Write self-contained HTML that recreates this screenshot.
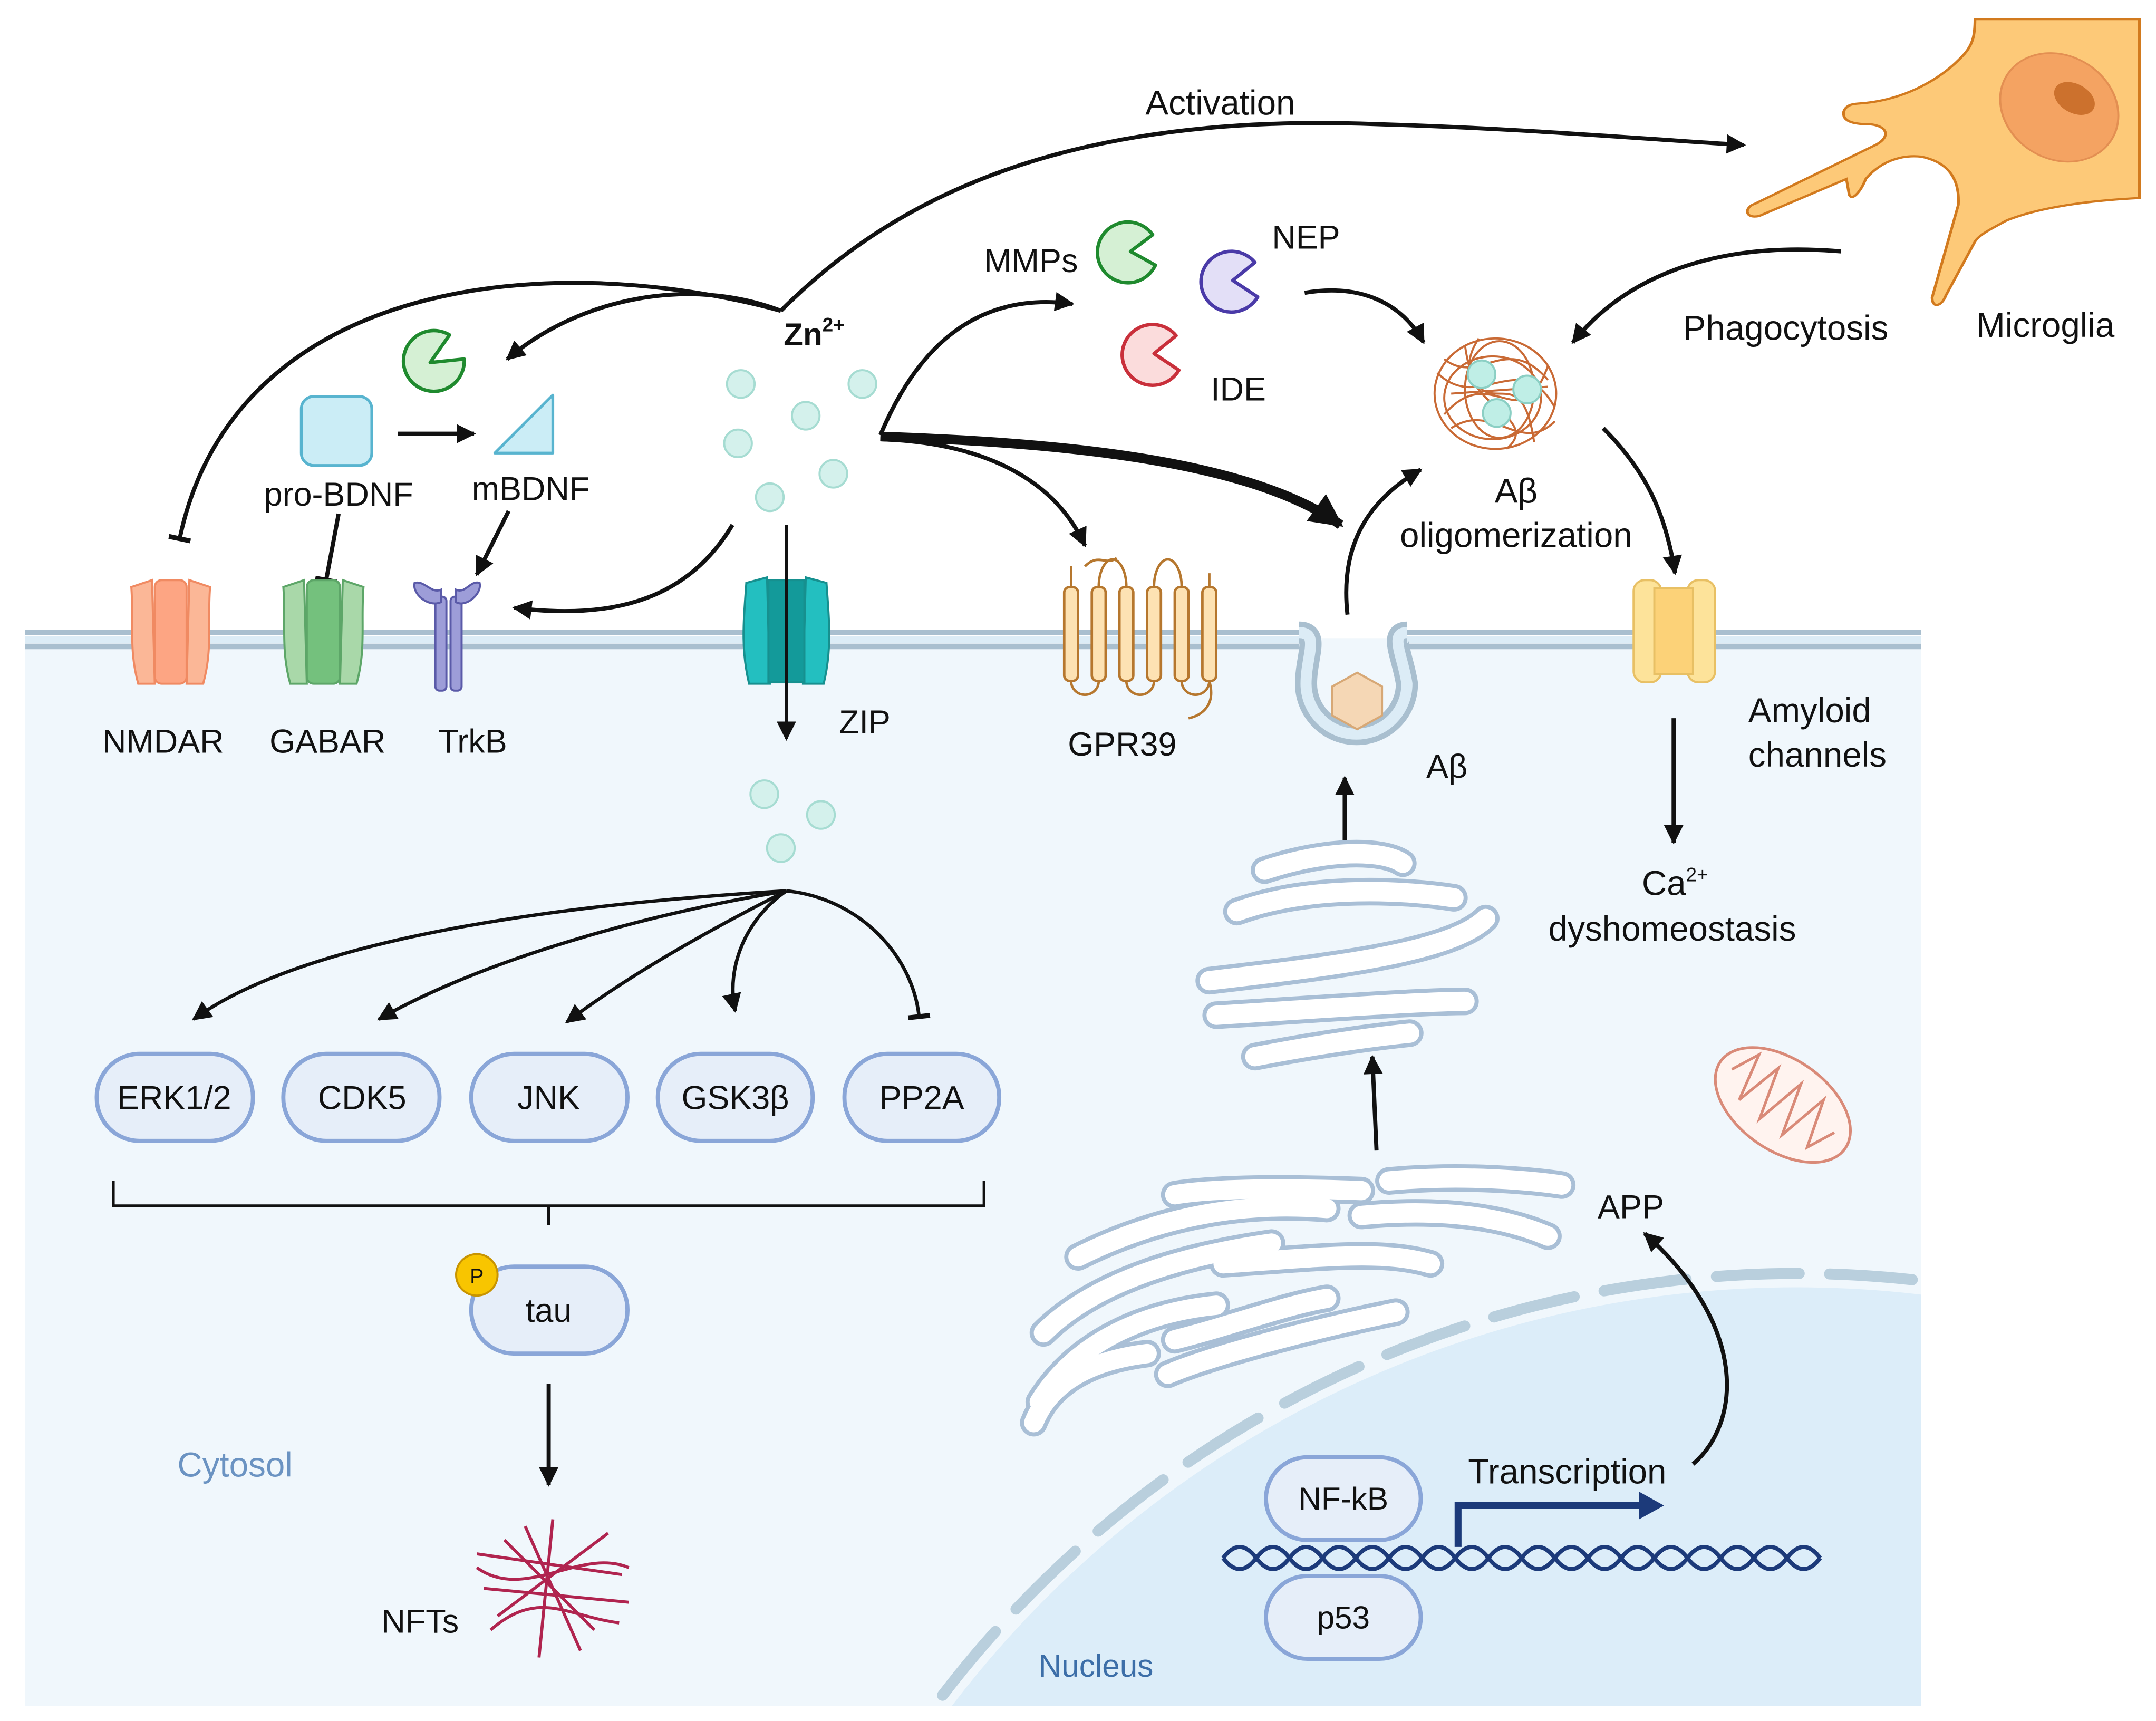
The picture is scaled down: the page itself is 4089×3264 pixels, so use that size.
<!DOCTYPE html>
<html><head><meta charset="utf-8"><style>
html,body{margin:0;padding:0;background:#fff;width:4089px;height:3264px;overflow:hidden;}
svg{display:block;}
text{font-family:"Liberation Sans",sans-serif;fill:#111;}
</style></head><body>
<svg width="4089" height="3264" viewBox="0 0 1560 1246" preserveAspectRatio="none" xmlns="http://www.w3.org/2000/svg">
<defs>
<marker id="a" viewBox="0 0 10 10" refX="9" refY="5" markerWidth="16" markerHeight="14" orient="auto" markerUnits="userSpaceOnUse"><path d="M0,0 L10,5 L0,10 z" fill="#111"/></marker>
<marker id="ab" viewBox="0 0 10 10" refX="9" refY="5" markerWidth="26" markerHeight="24" orient="auto" markerUnits="userSpaceOnUse"><path d="M0,0 L10,5 L0,10 z" fill="#111"/></marker>
<marker id="t" viewBox="0 0 10 10" refX="5" refY="5" markerWidth="16" markerHeight="16" orient="auto" markerUnits="userSpaceOnUse"><path d="M5,0 L5,10" stroke="#111" stroke-width="2.2"/></marker>
<clipPath id="cell"><rect x="18" y="462" width="1372" height="773"/></clipPath>
</defs>
<rect x="18" y="462" width="1372" height="773" fill="#f0f7fc"/>
<g clip-path="url(#cell)">
<circle cx="1300" cy="1700" r="768" fill="#dcedf9"/>
<circle cx="1300" cy="1700" r="778" fill="none" stroke="#b9cfdd" stroke-width="8" stroke-dasharray="60 22" stroke-linecap="round"/>
</g>
<path d="M18,458 H940 M1018,458 H1390" stroke="#a9bfcf" stroke-width="4" fill="none"/>
<path d="M18,463 H940 M1018,463 H1390" stroke="#dcecf6" stroke-width="5" fill="none"/>
<path d="M18,468 H940 M1018,468 H1390" stroke="#a9bfcf" stroke-width="4" fill="none"/>
<path d="M940,458 C955,458 945,475 945,495 A36,36 0 0 0 1018,495 C1015,475 1005,458 1018,458" fill="none" stroke="#a9bfcf" stroke-width="16"/>
<path d="M940,458 C955,458 945,475 945,495 A36,36 0 0 0 1018,495 C1015,475 1005,458 1018,458" fill="none" stroke="#dcecf6" stroke-width="8"/>
<polygon points="982,487 1000,497 1000,518 982,528 964,518 964,497" fill="#f5d7b5" stroke="#d7a876" stroke-width="1.5"/>

<!-- microglia -->
<g transform="scale(1,0.81)">
<path d="M1429,17 L1548,17 L1548,177 C1500,180 1470,188 1452,197 C1440,205 1432,210 1429,216 L1408,264 C1405,274 1398,276 1398,266 L1417,183 C1418,160 1410,145 1390,140 C1375,138 1360,145 1350,160 C1346,172 1340,180 1338,174 L1336,160 L1273,193 C1262,196 1262,185 1270,182 L1358,129 C1368,122 1366,112 1352,111 C1340,111 1333,108 1334,100 C1336,92 1343,93 1350,92 C1380,88 1405,70 1420,50 C1428,40 1429,30 1429,17 Z" fill="#fdc978" stroke="#d27a1e" stroke-width="2"/>
<ellipse cx="1490" cy="96" rx="41" ry="50" fill="#f4a362" stroke="#e38f52" stroke-width="1.5" transform="rotate(-25 1490 96)"/>
<ellipse cx="1501" cy="88" rx="17" ry="12" fill="#cc712d" transform="rotate(45 1501 88)"/>
</g>

<path d="M565,225 C640,150 760,80 1000,90 C1100,93 1180,100 1262,105" fill="none" stroke="#111" stroke-width="3" marker-end="url(#a)"/>
<text x="883" y="83" font-size="25" text-anchor="middle">Activation</text>
<path d="M565,225 C500,200 420,215 367,260" fill="none" stroke="#111" stroke-width="3" marker-end="url(#a)"/>
<path d="M565,225 C400,180 170,200 130,390" fill="none" stroke="#111" stroke-width="3" marker-end="url(#t)"/>
<text x="567" y="250" font-size="23" font-weight="bold">Zn<tspan font-size="14" dy="-10">2+</tspan></text>
<g fill="#d4f1ec" stroke="#a6dcd2" stroke-width="1.5">
<circle cx="536" cy="278" r="10"/><circle cx="624" cy="278" r="10"/><circle cx="583" cy="301" r="10"/><circle cx="534" cy="321" r="10"/><circle cx="603" cy="343" r="10"/><circle cx="557" cy="360" r="10"/>
<circle cx="553" cy="575" r="10"/><circle cx="594" cy="590" r="10"/><circle cx="565" cy="614" r="10"/>
</g>
<path d="M637,315 C660,260 700,210 776,220" fill="none" stroke="#111" stroke-width="3" marker-end="url(#a)"/>
<path d="M637,318 C700,320 760,340 785,395" fill="none" stroke="#111" stroke-width="3" marker-end="url(#a)"/>
<path d="M637,316 C750,320 900,330 970,380" fill="none" stroke="#111" stroke-width="7" marker-end="url(#ab)"/>
<path d="M530,380 C500,430 450,450 372,440" fill="none" stroke="#111" stroke-width="3" marker-end="url(#a)"/>

<path d="M338,268 A22,22 0 1 1 334,248 L314,262 Z" fill="#d5f0d4" stroke="#1f8a2e" stroke-width="2.5" stroke-linejoin="round" transform="rotate(-20 314 270)"/>
<rect x="218" y="287" width="51" height="50" rx="9" fill="#cbedf6" stroke="#58b4cf" stroke-width="2"/>
<path d="M358,328 L400,286 L400,328 Z" fill="#cbedf6" stroke="#58b4cf" stroke-width="2" stroke-linejoin="round"/>
<path d="M288,314 H343" stroke="#111" stroke-width="3" marker-end="url(#a)"/>
<text x="245" y="366" font-size="24" text-anchor="middle">pro-BDNF</text>
<text x="384" y="362" font-size="24" text-anchor="middle">mBDNF</text>
<path d="M245,372 L236,420" stroke="#111" stroke-width="3" marker-end="url(#t)"/>
<path d="M368,370 L345,416" stroke="#111" stroke-width="3" marker-end="url(#a)"/>

<g stroke="#f08a62" stroke-width="1.5" fill="#fbb797">
<path d="M95,425 L110,420 L112,495 L100,495 C93,470 97,450 95,425Z"/><path d="M152,425 L137,420 L135,495 L147,495 C154,470 150,450 152,425Z"/>
<rect x="112" y="420" width="23" height="75" rx="5" fill="#fda583"/>
</g>
<g stroke="#5da668" stroke-width="1.5" fill="#a9d8a9">
<path d="M205,425 L220,420 L222,495 L210,495 C203,470 207,450 205,425Z"/><path d="M263,425 L248,420 L246,495 L258,495 C265,470 261,450 263,425Z"/>
<rect x="222" y="420" width="24" height="75" rx="5" fill="#74c17d"/>
</g>
<g fill="#9d9dd8" stroke="#5a5aa8" stroke-width="1.5">
<rect x="315" y="432" width="8" height="68" rx="3"/><rect x="326" y="432" width="8" height="68" rx="3"/>
<path d="M300,422 C298,430 310,440 319,436 L319,427 C312,430 307,420 300,422Z"/><path d="M347,422 C349,430 337,440 330,436 L330,427 C337,430 340,420 347,422Z"/>
</g>
<text x="118" y="545" font-size="24" text-anchor="middle">NMDAR</text>
<text x="237" y="545" font-size="24" text-anchor="middle">GABAR</text>
<text x="342" y="545" font-size="24" text-anchor="middle">TrkB</text>

<g fill="#23bfc0" stroke="#16908f" stroke-width="1.5">
<path d="M540,422 L555,418 L557,495 L542,495 C536,470 538,450 540,422Z"/><path d="M598,422 L583,418 L581,495 L596,495 C602,470 600,450 598,422Z"/>
<rect x="556" y="420" width="26" height="74" fill="#139a9a"/>
</g>
<path d="M569,380 V535" stroke="#111" stroke-width="2.5" marker-end="url(#a)"/>
<text x="607" y="531" font-size="24">ZIP</text>

<g fill="#fde2b3" stroke="#b6772e" stroke-width="1.8">
<path d="M785,410 C795,400 800,410 808,404" fill="none"/>
<rect x="770" y="425" width="10" height="68" rx="4"/><rect x="790" y="425" width="10" height="68" rx="4"/><rect x="810" y="425" width="10" height="68" rx="4"/><rect x="830" y="425" width="10" height="68" rx="4"/><rect x="850" y="425" width="10" height="68" rx="4"/><rect x="870" y="425" width="10" height="68" rx="4"/>
<path d="M775,425 V410 M795,425 A5,10 0 0 1 815,425 M835,425 A5,10 0 0 1 855,425 M875,425 V415 M775,493 A10,10 0 0 0 795,493 M815,493 A10,10 0 0 0 835,493 M855,493 A10,10 0 0 0 875,493 M875,493 C880,510 870,518 860,520" fill="none"/>
</g>
<text x="812" y="547" font-size="24" text-anchor="middle">GPR39</text>

<path d="M836,192 A22,22 0 1 1 834,170 L818,182 Z" fill="#d5f0d4" stroke="#1f8a2e" stroke-width="2.5" stroke-linejoin="round"/>
<path d="M910,215 A22,22 0 1 1 908,190 L892,203 Z" fill="#e3dff7" stroke="#4a3aa8" stroke-width="2.5" stroke-linejoin="round"/>
<path d="M853,268 A22,22 0 1 1 851,243 L835,256 Z" fill="#fbdcdc" stroke="#c9303b" stroke-width="2.5" stroke-linejoin="round"/>
<text x="746" y="197" font-size="24" text-anchor="middle">MMPs</text>
<text x="945" y="180" font-size="24" text-anchor="middle">NEP</text>
<text x="896" y="290" font-size="24" text-anchor="middle">IDE</text>
<path d="M944,212 C985,205 1015,220 1030,248" fill="none" stroke="#111" stroke-width="3" marker-end="url(#a)"/>
<path d="M1332,182 C1250,175 1180,195 1138,248" fill="none" stroke="#111" stroke-width="3" marker-end="url(#a)"/>
<text x="1292" y="246" font-size="25" text-anchor="middle">Phagocytosis</text>
<text x="1480" y="244" font-size="25" text-anchor="middle">Microglia</text>

<g stroke="#c45a20" stroke-width="1.5" fill="none" opacity="0.9">
<ellipse cx="1082" cy="285" rx="44" ry="40"/><ellipse cx="1080" cy="288" rx="35" ry="30"/><ellipse cx="1085" cy="282" rx="25" ry="35"/>
<path d="M1040,270 C1070,300 1100,250 1125,295 M1045,300 C1080,260 1100,320 1120,265 M1060,250 C1070,320 1100,250 1110,320 M1050,285 L1120,280 M1070,245 C1040,290 1120,300 1090,325 M1045,260 C1070,280 1090,240 1120,275 M1050,310 C1080,290 1100,330 1125,305"/>
</g>
<g fill="#bfeee6" stroke="#8bcfc4" stroke-width="1.5"><circle cx="1072" cy="271" r="10"/><circle cx="1105" cy="282" r="10"/><circle cx="1083" cy="299" r="10"/></g>
<text x="1097" y="364" font-size="25" text-anchor="middle">Aβ</text>
<text x="1097" y="396" font-size="25" text-anchor="middle">oligomerization</text>
<path d="M975,445 C970,400 985,365 1028,340" fill="none" stroke="#111" stroke-width="3" marker-end="url(#a)"/>
<path d="M1160,310 C1190,340 1205,370 1212,415" fill="none" stroke="#111" stroke-width="3" marker-end="url(#a)"/>

<g fill="#fde39a" stroke="#e8c064" stroke-width="1.5">
<rect x="1182" y="420" width="20" height="74" rx="8"/><rect x="1221" y="420" width="20" height="74" rx="8"/>
<rect x="1197" y="426" width="28" height="62" fill="#fcd278"/>
</g>
<text x="1265" y="523" font-size="25">Amyloid</text>
<text x="1265" y="555" font-size="25">channels</text>
<path d="M1211,520 V610" stroke="#111" stroke-width="3" marker-end="url(#a)"/>
<text x="1188" y="648" font-size="25">Ca<tspan font-size="14" dy="-10">2+</tspan></text>
<text x="1210" y="681" font-size="25" text-anchor="middle">dyshomeostasis</text>
<text x="1032" y="563" font-size="24">Aβ</text>
<path d="M973,615 V563" stroke="#111" stroke-width="3" marker-end="url(#a)"/>

<g fill="none" stroke-linecap="round">
<g stroke="#a9bfd6" stroke-width="20">
<path d="M915,630 C960,615 1000,615 1015,625"/><path d="M895,660 C950,640 1020,645 1052,650"/><path d="M875,710 C960,700 1050,690 1075,665"/><path d="M880,735 C960,730 1030,725 1060,725"/><path d="M908,765 C960,755 1000,750 1020,748"/>
</g>
<g stroke="#ffffff" stroke-width="14">
<path d="M915,630 C960,615 1000,615 1015,625"/><path d="M895,660 C950,640 1020,645 1052,650"/><path d="M875,710 C960,700 1050,690 1075,665"/><path d="M880,735 C960,730 1030,725 1060,725"/><path d="M908,765 C960,755 1000,750 1020,748"/>
</g>
</g>
<path d="M996,833 L993,765" stroke="#111" stroke-width="3" marker-end="url(#a)"/>
<g fill="none" stroke-linecap="round">
<g stroke="#a9bfd6" stroke-width="20">
<path d="M1005,855 C1060,850 1110,855 1130,858"/><path d="M850,865 C880,860 930,860 985,862"/><path d="M780,910 C840,880 900,870 960,875 M985,880 C1040,875 1085,880 1120,895"/><path d="M755,965 C790,930 850,910 920,900 M885,915 C960,910 1000,905 1035,915"/><path d="M752,1015 C780,970 830,950 880,945 M850,970 C890,960 930,945 960,940 M845,995 C880,980 960,960 1010,950"/><path d="M748,1030 C760,1000 790,985 830,980"/>
</g>
<g stroke="#ffffff" stroke-width="14">
<path d="M1005,855 C1060,850 1110,855 1130,858"/><path d="M850,865 C880,860 930,860 985,862"/><path d="M780,910 C840,880 900,870 960,875 M985,880 C1040,875 1085,880 1120,895"/><path d="M755,965 C790,930 850,910 920,900 M885,915 C960,910 1000,905 1035,915"/><path d="M752,1015 C780,970 830,950 880,945 M850,970 C890,960 930,945 960,940 M845,995 C880,980 960,960 1010,950"/><path d="M748,1030 C760,1000 790,985 830,980"/>
</g>
</g>
<text x="1156" y="882" font-size="24">APP</text>
<g transform="rotate(35 1290 800)"><ellipse cx="1290" cy="800" rx="55" ry="33" fill="#fff3ef" stroke="#d98a78" stroke-width="2"/>
<path d="M1245,800 L1255,780 L1262,815 L1272,780 L1282,818 L1292,780 L1302,818 L1312,780 L1322,815 L1332,795" fill="none" stroke="#d98a78" stroke-width="2"/></g>

<path d="M1225,1060 C1260,1030 1265,960 1190,893" fill="none" stroke="#111" stroke-width="3" marker-end="url(#a)"/>
<text x="1134" y="1074" font-size="25" text-anchor="middle">Transcription</text>
<path d="M1055,1120 V1090 H1190" fill="none" stroke="#1c3a7a" stroke-width="5"/>
<path d="M1186,1080 L1204,1090 L1186,1100 Z" fill="#1c3a7a"/>
<path d="M885,1128 Q897,1112 909,1128 T933,1128 T957,1128 T981,1128 T1005,1128 T1029,1128 T1053,1128 T1077,1128 T1101,1128 T1125,1128 T1149,1128 T1173,1128 T1197,1128 T1221,1128 T1245,1128 T1269,1128 T1293,1128 T1317,1128" fill="none" stroke="#1c3a7a" stroke-width="3"/>
<path d="M885,1128 Q897,1144 909,1128 T933,1128 T957,1128 T981,1128 T1005,1128 T1029,1128 T1053,1128 T1077,1128 T1101,1128 T1125,1128 T1149,1128 T1173,1128 T1197,1128 T1221,1128 T1245,1128 T1269,1128 T1293,1128 T1317,1128" fill="none" stroke="#1c3a7a" stroke-width="3"/>
<g fill="#e6eef9" stroke="#8aa6d8" stroke-width="3">
<rect x="916" y="1055" width="112" height="60" rx="30"/><rect x="916" y="1141" width="112" height="60" rx="30"/>
</g>
<text x="972" y="1093" font-size="23" text-anchor="middle">NF-kB</text>
<text x="972" y="1179" font-size="23" text-anchor="middle">p53</text>
<text x="793" y="1214" font-size="23" text-anchor="middle" style="fill:#3c6ea8">Nucleus</text>
<text x="170" y="1069" font-size="25" text-anchor="middle" style="fill:#6b93c2">Cytosol</text>

<path d="M569,645 C400,655 220,680 140,738" fill="none" stroke="#111" stroke-width="2.5" marker-end="url(#a)"/>
<path d="M569,645 C450,665 340,700 274,738" fill="none" stroke="#111" stroke-width="2.5" marker-end="url(#a)"/>
<path d="M569,645 C500,680 450,710 410,740" fill="none" stroke="#111" stroke-width="2.5" marker-end="url(#a)"/>
<path d="M569,645 C540,665 525,700 532,732" fill="none" stroke="#111" stroke-width="2.5" marker-end="url(#a)"/>
<path d="M569,645 C620,650 660,690 665,736" fill="none" stroke="#111" stroke-width="2.5" marker-end="url(#t)"/>
<g fill="#e6eef9" stroke="#8aa6d8" stroke-width="3">
<rect x="70" y="763" width="113" height="63" rx="31"/><rect x="205" y="763" width="113" height="63" rx="31"/><rect x="341" y="763" width="113" height="63" rx="31"/><rect x="476" y="763" width="112" height="63" rx="31"/><rect x="611" y="763" width="112" height="63" rx="31"/>
<rect x="341" y="917" width="113" height="63" rx="31"/>
</g>
<g font-size="24" text-anchor="middle">
<text x="126" y="803">ERK1/2</text><text x="262" y="803">CDK5</text><text x="397" y="803">JNK</text><text x="532" y="803">GSK3β</text><text x="667" y="803">PP2A</text><text x="397" y="957">tau</text>
</g>
<path d="M82,855 V873 H712 V855 M397,873 V887" fill="none" stroke="#111" stroke-width="2"/>
<circle cx="345" cy="923" r="15" fill="#f8c500" stroke="#c89400" stroke-width="1.5"/>
<text x="345" y="929" font-size="15" text-anchor="middle">P</text>
<path d="M397,1002 V1075" stroke="#111" stroke-width="3" marker-end="url(#a)"/>
<g stroke="#b0244f" stroke-width="2.2" fill="none">
<path d="M345,1125 L450,1140 M360,1170 L440,1110 M380,1105 L420,1195 M350,1150 L455,1160 M365,1115 L430,1180 M400,1100 L390,1200 M345,1135 C380,1160 420,1120 455,1135 M355,1180 C390,1150 410,1170 448,1175"/>
</g>
<text x="304" y="1182" font-size="24" text-anchor="middle">NFTs</text>
</svg>
</body></html>
